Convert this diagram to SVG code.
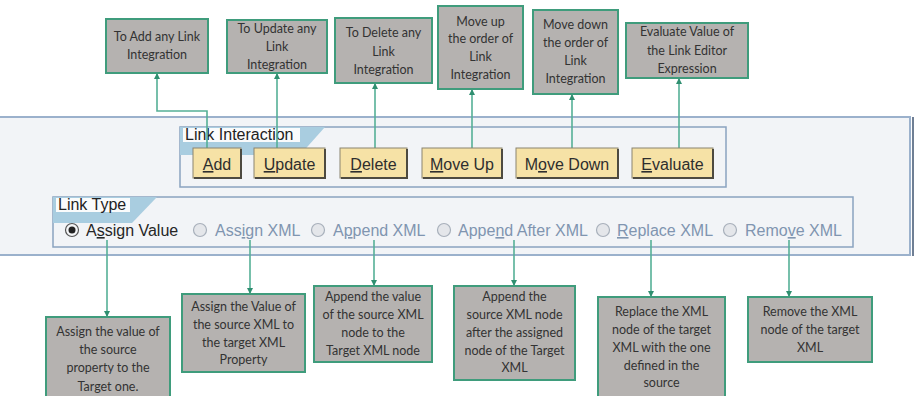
<svg xmlns="http://www.w3.org/2000/svg" width="916" height="396" viewBox="0 0 916 396">
<defs>
<style>
.note rect{fill:#b5b2b0;stroke:#3f9c7c;stroke-width:2}
.note text{font-family:Lato,"Open Sans",sans-serif;font-size:12.5px;fill:#333;text-anchor:middle}
.btn rect.face{fill:#f6e2a6;stroke:#8a8470;stroke-width:1}
.btn path{fill:none;stroke:#4d4a40;stroke-width:2}
.ui{font-family:"Liberation Sans",Arial,sans-serif;font-size:16px}
.btn text{fill:#2e2e2e;text-anchor:middle}
.dis{fill:#8095b0}
.radio{fill:#e4e6ea;stroke:#a8b0bb;stroke-width:1.2}
.gb{fill:none;stroke:#8aa3c0;stroke-width:1.5}
.tab{fill:#a9cde0}
.conn path{fill:none;stroke:#55b096;stroke-width:1.6}
</style>
<marker id="ah" markerWidth="6" markerHeight="6" refX="5" refY="3" orient="auto" markerUnits="userSpaceOnUse">
<path d="M0,0 L6,3 L0,6 Z" fill="#2f8f70"/>
</marker>
</defs>
<rect width="916" height="396" fill="#ffffff"/>

<!-- panel -->
<g id="panel">
<rect x="-2" y="117" width="912" height="138" fill="#f2f4f7" stroke="#9bb1cc" stroke-width="2"/>
<line x1="913" y1="117" x2="913" y2="256" stroke="#6f7f95" stroke-width="2"/>
</g>

<g id="link-interaction-group">
<rect class="gb" x="180" y="127" width="546" height="60" fill="#f5f7fa"/>
<polygon class="tab" points="180,127 325,127 300,155 180,155"/>
<rect x="183" y="128" width="117" height="14" fill="#fafbfc"/>
<text class="ui" x="185" y="140" fill="#222">Link Interaction</text>
</g>

<g id="link-type-group">
<rect class="gb" x="53" y="197" width="800" height="50" fill="#f5f7fa"/>
<polygon class="tab" points="53,197 157,197 132,223 53,223"/>
<rect x="56" y="198" width="74" height="14" fill="#fafbfc"/>
<text class="ui" x="58" y="210" fill="#222">Link Type</text>
</g>

<!-- connectors -->
<g id="connectors" class="conn">
<path d="M207,148 V111 H157 V74" marker-end="url(#ah)"/>
<path d="M277,148 V74" marker-end="url(#ah)"/>
<path d="M375,148 V84" marker-end="url(#ah)"/>
<path d="M472,148 V90" marker-end="url(#ah)"/>
<path d="M572,148 V95" marker-end="url(#ah)"/>
<path d="M679,148 V79" marker-end="url(#ah)"/>
<path d="M107,240 V316" marker-end="url(#ah)"/>
<path d="M250,240 V293" marker-end="url(#ah)"/>
<path d="M374,240 V285" marker-end="url(#ah)"/>
<path d="M514,240 V285" marker-end="url(#ah)"/>
<path d="M651,240 V296" marker-end="url(#ah)"/>
<path d="M789,240 V296" marker-end="url(#ah)"/>
</g>

<!-- buttons -->
<g id="btn-add" class="btn ui">
<rect class="face" x="193" y="148" width="48" height="30"/>
<path d="M194,178 H241 V149"/>
<text x="217" y="170"><tspan text-decoration="underline">A</tspan>dd</text>
</g>
<g id="btn-update" class="btn ui">
<rect class="face" x="254" y="148" width="71" height="30"/>
<path d="M255,178 H325 V149"/>
<text x="289.5" y="170"><tspan text-decoration="underline">U</tspan>pdate</text>
</g>
<g id="btn-delete" class="btn ui">
<rect class="face" x="340" y="148" width="67" height="30"/>
<path d="M341,178 H407 V149"/>
<text x="373.5" y="170"><tspan text-decoration="underline">D</tspan>elete</text>
</g>
<g id="btn-moveup" class="btn ui">
<rect class="face" x="422" y="148" width="80" height="30"/>
<path d="M423,178 H502 V149"/>
<text x="462" y="170"><tspan text-decoration="underline">M</tspan>ove Up</text>
</g>
<g id="btn-movedown" class="btn ui">
<rect class="face" x="516" y="148" width="102" height="30"/>
<path d="M517,178 H618 V149"/>
<text x="567" y="170">M<tspan text-decoration="underline">o</tspan>ve Down</text>
</g>
<g id="btn-evaluate" class="btn ui">
<rect class="face" x="632" y="148" width="81" height="30"/>
<path d="M633,178 H713 V149"/>
<text x="672.5" y="170"><tspan text-decoration="underline">E</tspan>valuate</text>
</g>

<!-- radios -->
<g id="radio-assign-value" class="ui">
<circle cx="72" cy="230" r="6.5" fill="#f4f5f7" stroke="#555" stroke-width="1.2"/>
<circle cx="72" cy="230" r="3.5" fill="#222"/>
<text x="86" y="236" fill="#262626">A<tspan text-decoration="underline">s</tspan>sign Value</text>
</g>
<g id="radio-assign-xml" class="ui">
<circle class="radio" cx="200" cy="230" r="6.5"/>
<text class="dis" x="215" y="236">Ass<tspan text-decoration="underline">i</tspan>gn XML</text>
</g>
<g id="radio-append-xml" class="ui">
<circle class="radio" cx="318" cy="230" r="6.5"/>
<text class="dis" x="333" y="236">A<tspan text-decoration="underline">p</tspan>pend XML</text>
</g>
<g id="radio-append-after-xml" class="ui">
<circle class="radio" cx="444" cy="230" r="6.5"/>
<text class="dis" x="458" y="236">Appe<tspan text-decoration="underline">n</tspan>d After XML</text>
</g>
<g id="radio-replace-xml" class="ui">
<circle class="radio" cx="603" cy="230" r="6.5"/>
<text class="dis" x="617" y="236"><tspan text-decoration="underline">R</tspan>eplace XML</text>
</g>
<g id="radio-remove-xml" class="ui">
<circle class="radio" cx="730" cy="230" r="6.5"/>
<text class="dis" x="745" y="236">Remo<tspan text-decoration="underline">v</tspan>e XML</text>
</g>

<!-- top notes -->
<g id="note-add" class="note">
<rect x="106" y="19" width="102" height="54"/>
<text x="157" y="41">To Add any Link</text>
<text x="157" y="59">Integration</text>
</g>
<g id="note-update" class="note">
<rect x="227" y="20" width="100" height="53"/>
<text x="277" y="33">To Update any</text>
<text x="277" y="51">Link</text>
<text x="277" y="69">Integration</text>
</g>
<g id="note-delete" class="note">
<rect x="335" y="18" width="97" height="65"/>
<text x="383.5" y="37">To Delete any</text>
<text x="383.5" y="56">Link</text>
<text x="383.5" y="74">Integration</text>
</g>
<g id="note-moveup" class="note">
<rect x="438" y="6" width="85" height="83"/>
<text x="480.5" y="26">Move up</text>
<text x="480.5" y="43">the order of</text>
<text x="480.5" y="61">Link</text>
<text x="480.5" y="79">Integration</text>
</g>
<g id="note-movedown" class="note">
<rect x="533" y="10" width="85" height="84"/>
<text x="575.5" y="29">Move down</text>
<text x="575.5" y="47">the order of</text>
<text x="575.5" y="65">Link</text>
<text x="575.5" y="83">Integration</text>
</g>
<g id="note-evaluate" class="note">
<rect x="626" y="23" width="122" height="55"/>
<text x="687" y="36">Evaluate Value of</text>
<text x="687" y="55">the Link Editor</text>
<text x="687" y="73">Expression</text>
</g>

<!-- bottom notes -->
<g id="note-assign-value" class="note">
<rect x="46" y="317" width="124" height="84"/>
<text x="108" y="336">Assign the value of</text>
<text x="108" y="354">the source</text>
<text x="108" y="372">property to the</text>
<text x="108" y="391">Target one.</text>
</g>
<g id="note-assign-xml" class="note">
<rect x="182" y="294" width="123" height="78"/>
<text x="243.5" y="311">Assign the Value of</text>
<text x="243.5" y="329">the source XML to</text>
<text x="243.5" y="347">the target XML</text>
<text x="243.5" y="364">Property</text>
</g>
<g id="note-append-xml" class="note">
<rect x="314" y="286" width="118" height="76"/>
<text x="373" y="301">Append the value</text>
<text x="373" y="319">of the source XML</text>
<text x="373" y="337">node to the</text>
<text x="373" y="355">Target XML node</text>
</g>
<g id="note-append-after-xml" class="note">
<rect x="454" y="286" width="121" height="94"/>
<text x="514.5" y="301">Append the</text>
<text x="514.5" y="319">source XML node</text>
<text x="514.5" y="337">after the assigned</text>
<text x="514.5" y="355">node of the Target</text>
<text x="514.5" y="372">XML</text>
</g>
<g id="note-replace-xml" class="note">
<rect x="598" y="297" width="127" height="104"/>
<text x="661.5" y="316">Replace the XML</text>
<text x="661.5" y="334">node of the target</text>
<text x="661.5" y="352">XML with the one</text>
<text x="661.5" y="370">defined in the</text>
<text x="661.5" y="387">source</text>
</g>
<g id="note-remove-xml" class="note">
<rect x="748" y="297" width="124" height="65"/>
<text x="810" y="316">Remove the XML</text>
<text x="810" y="334">node of the target</text>
<text x="810" y="352">XML</text>
</g>
</svg>
